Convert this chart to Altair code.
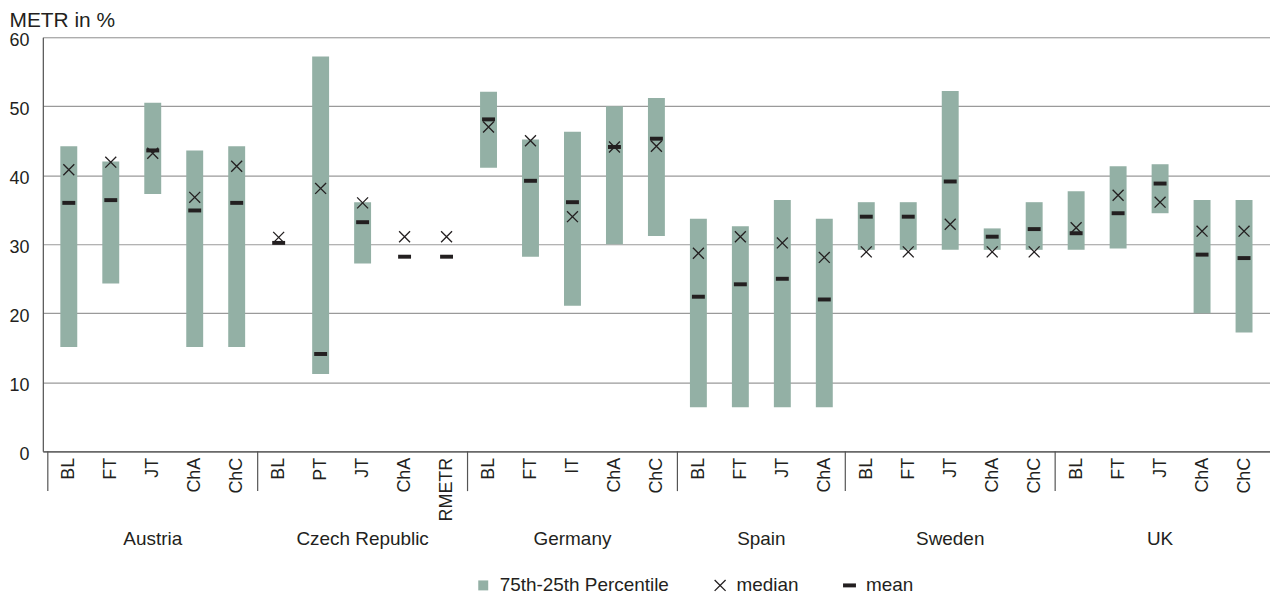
import altair as alt
import pandas as pd

countries = ["Austria", "Czech Republic", "Germany", "Spain", "Sweden", "UK"]
categories = [
    ["BL", "FT", "JT", "ChA", "ChC"],
    ["BL", "PT", "JT", "ChA", "RMETR"],
    ["BL", "FT", "IT", "ChA", "ChC"],
    ["BL", "FT", "JT", "ChA"],
    ["BL", "FT", "JT", "ChA", "ChC"],
    ["BL", "FT", "JT", "ChA", "ChC"],
]
p75 = [
    [44.2, 42.0, 50.5, 43.6, 44.2],
    [None, 57.2, 36.1, None, None],
    [52.1, 45.2, 46.3, 50.0, 51.2],
    [33.7, 32.6, 36.4, 33.7],
    [36.1, 36.1, 52.2, 32.3, 36.1],
    [37.7, 41.3, 41.6, 36.4, 36.4],
]
p25 = [
    [15.1, 24.3, 37.3, 15.1, 15.1],
    [None, 11.2, 27.2, None, None],
    [41.1, 28.2, 21.1, 30.0, 31.2],
    [6.4, 6.4, 6.4, 6.4],
    [29.2, 29.2, 29.2, 29.2, 29.2],
    [29.2, 29.4, 34.5, 20.0, 17.2],
]
median = [
    [40.8, 41.9, 43.2, 36.8, 41.3],
    [31.0, 38.1, 36.0, 31.1, 31.1],
    [47.0, 45.0, 34.0, 44.1, 44.2],
    [28.7, 31.1, 30.2, 28.1],
    [28.9, 28.9, 32.9, 28.9, 28.9],
    [32.4, 37.1, 36.1, 31.9, 31.9],
]
mean = [
    [36.0, 36.4, 43.6, 34.9, 36.0],
    [30.2, 14.1, 33.2, 28.2, 28.2],
    [48.1, 39.2, 36.1, 44.1, 45.3],
    [22.4, 24.2, 25.0, 22.0],
    [34.0, 34.0, 39.1, 31.1, 32.2],
    [31.6, 34.5, 38.8, 28.5, 28.0],
]
series_names = ["75th-25th Percentile", "median", "mean"]
y_ticks = [0, 10, 20, 30, 40, 50, 60]

# ---- build tables ----
bar_rows, pt_rows, sep_rows, country_rows, labels = [], [], [], [], []
idx = 0
for c, cats in enumerate(categories):
    start = idx
    sep_rows.append({"x": start - 0.5})
    for k, cat in enumerate(cats):
        labels.append(cat)
        if p75[c][k] is not None:
            bar_rows.append({"idx": idx, "p25": p25[c][k], "p75": p75[c][k]})
        pt_rows.append({"idx": idx, "value": median[c][k], "series": "median"})
        pt_rows.append({"idx": idx, "value": mean[c][k], "series": "mean"})
        idx += 1
    country_rows.append({"x": (start + idx - 1) / 2, "country": countries[c]})
n = idx

bar_df = pd.DataFrame(bar_rows)
pt_df = pd.DataFrame(pt_rows)
sep_df = pd.DataFrame(sep_rows)
country_df = pd.DataFrame(country_rows)

TXT = "#231f20"
GREEN = "#93b0a5"
FONT = "Liberation Sans"
W, H = 1233, 416

label_arr = "[" + ",".join("'" + s + "'" for s in labels) + "]"

xscale = alt.Scale(domain=[-0.5, n - 0.5], nice=False, zero=False)
yscale = alt.Scale(domain=[0, 60], nice=False, zero=True)

xaxis = alt.Axis(
    values=list(range(n)), labelExpr=label_arr + "[datum.value]",
    labelAngle=270, labelPadding=6, ticks=False, tickSize=0, grid=False,
    domainColor="#555555", domainWidth=1.2, title=None, labelOverlap=False,
    labelFlush=False, labelFontSize=18, labelColor=TXT, labelFont=FONT,
)
yaxis = alt.Axis(
    values=y_ticks, grid=True, gridColor="#9a9a9a", gridWidth=1.2,
    domainColor="#555555", domainWidth=1.2, ticks=False, tickSize=0,
    labelPadding=14, labelFontSize=18, labelColor=TXT, labelFont=FONT,
    labelFlush=False, labelOffset=3,
    title="METR in %", titleAngle=0, titleX=-34, titleY=-11,
    titleAlign="left", titleBaseline="alphabetic", titleFontSize=21,
    titleFontWeight="normal", titleColor=TXT, titleFont=FONT,
)

X = alt.X("idx:Q", scale=xscale, axis=xaxis)

bars = alt.Chart(bar_df).mark_bar(size=17, color=GREEN).encode(
    x=X,
    y=alt.Y("p25:Q", scale=yscale, axis=yaxis),
    y2="p75:Q",
)

square = "M-0.91,-0.91L0.91,-0.91L0.91,0.91L-0.91,0.91Z"
xshape = ("M-0.915,-1.085L1.085,0.915L0.915,1.085L-1.085,-0.915Z"
          "M-0.915,1.085L-1.085,0.915L0.915,-1.085L1.085,-0.915Z")
dash = "M-1.18,-0.36L1.18,-0.36L1.18,0.36L-1.18,0.36Z"

legend = alt.Legend(
    title=None, orient="none", legendX=433, legendY=541, direction="horizontal",
    columns=3, labelFontSize=19, labelColor=TXT, labelFont=FONT, labelLimit=0,
    symbolSize=121, labelOffset=7, columnPadding=41, padding=0,
    symbolStrokeWidth=0,
)

points = alt.Chart(pt_df).mark_point(filled=True, size=121, opacity=1, strokeWidth=0).encode(
    x=X,
    y=alt.Y("value:Q", scale=yscale, axis=yaxis),
    shape=alt.Shape("series:N", scale=alt.Scale(domain=series_names, range=[square, xshape, dash]), legend=legend),
    color=alt.Color("series:N", scale=alt.Scale(domain=series_names, range=[GREEN, TXT, TXT]), legend=legend),
)

seps = alt.Chart(sep_df).mark_rule(color="#555555", strokeWidth=1.2).encode(
    x=alt.X("x:Q", scale=xscale, axis=xaxis),
    y=alt.value(H),
    y2=alt.value(H + 40),
)

ctext = alt.Chart(country_df).mark_text(fontSize=19, font=FONT, color=TXT, baseline="middle").encode(
    x=alt.X("x:Q", scale=xscale, axis=xaxis),
    y=alt.value(H + 88),
    text="country:N",
)

chart = alt.layer(bars, points, seps, ctext).properties(
    width=W, height=H,
    autosize=alt.AutoSizeParams(type="none"),
    padding={"left": 35, "top": 28, "right": 0, "bottom": 146},
).configure_view(stroke=None).configure(font=FONT)

chart.save("out.html", embed_options={"renderer": "svg", "actions": False})
